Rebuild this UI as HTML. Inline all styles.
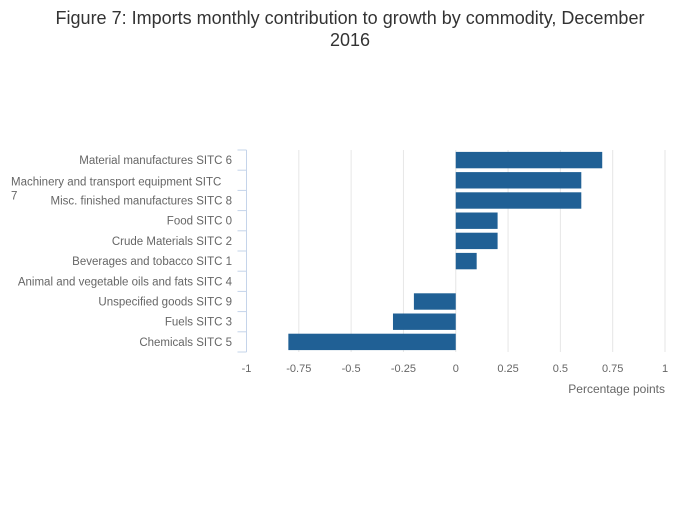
<!DOCTYPE html>
<html><head><meta charset="utf-8"><style>
body{margin:0;background:#fff;width:700px;height:502px;overflow:hidden;font-family:"Liberation Sans",sans-serif}
</style></head><body>
<svg width="700" height="502" id="c" style="font-family:'Liberation Sans',sans-serif">
<text x="350" y="24" text-anchor="middle" font-size="18" fill="#333">Figure 7: Imports monthly contribution to growth by commodity, December</text>
<text x="350" y="46" text-anchor="middle" font-size="18" fill="#333">2016</text>
</svg>
<script>
const categories=["Material manufactures SITC 6","Machinery and transport equipment SITC 7","Misc. finished manufactures SITC 8","Food SITC 0","Crude Materials SITC 2","Beverages and tobacco SITC 1","Animal and vegetable oils and fats SITC 4","Unspecified goods SITC 9","Fuels SITC 3","Chemicals SITC 5"];
const values=[0.7,0.6,0.6,0.2,0.2,0.1,0,-0.2,-0.3,-0.8];
const ticks=[-1,-0.75,-0.5,-0.25,0,0.25,0.5,0.75,1];
const tickLabels=["-1","-0.75","-0.5","-0.25","0","0.25","0.5","0.75","1"];
const svg=document.getElementById('c');const NS="http://www.w3.org/2000/svg";
const x0=246.5,x1=665,yTop=150,yBot=352;
const xs=v=>x0+(v+1)/2*(x1-x0);
const step=(yBot-yTop)/categories.length;
function mk(t,a){const e=document.createElementNS(NS,t);for(const k in a)e.setAttribute(k,a[k]);svg.appendChild(e);return e;}
ticks.forEach((t,i)=>{
 if(i>0){const g=mk('line',{x1:xs(t),x2:xs(t),y1:yTop,y2:yBot,stroke:'#e6e6e6','stroke-width':1});
 
 }
 const l=mk('text',{x:xs(t),y:372,'text-anchor':'middle','font-size':11,fill:'#666'});l.textContent=tickLabels[i];
 
 
});
const ax=mk('line',{x1:x0,x2:x0,y1:yTop,y2:yBot,stroke:'#c5d4ea','stroke-width':1});


for(let i=0;i<=categories.length;i++){const y=yTop+i*step;const tk=mk('line',{x1:x0-9,x2:x0,y1:y,y2:y,stroke:'#c5d4ea','stroke-width':1});

}
categories.forEach((c,i)=>{
 const yc=yTop+(i+0.5)*step;const v=values[i];
 const r=mk('rect',{x:Math.min(xs(0),xs(v)),y:yc-8.2,width:Math.abs(xs(v)-xs(0)),height:16.4,fill:'#206095'});
 
 
 if(c==="Machinery and transport equipment SITC 7"){
  const t=mk('text',{x:11,y:yc+5,'font-size':11.5,fill:'#666'});t.textContent="Machinery and transport equipment SITC";
  
  
  const t2=mk('text',{x:11,y:yc+19,'font-size':11.5,fill:'#666'});t2.textContent="7";
  
  
 } else {
  const t=mk('text',{x:232,y:yc+4,'text-anchor':'end','font-size':11.5,fill:'#666'});t.textContent=c;
  
  
 }
});
const at=mk('text',{x:665,y:393,'text-anchor':'end','font-size':12,fill:'#666'});at.textContent="Percentage points";


</script>
</body></html>
